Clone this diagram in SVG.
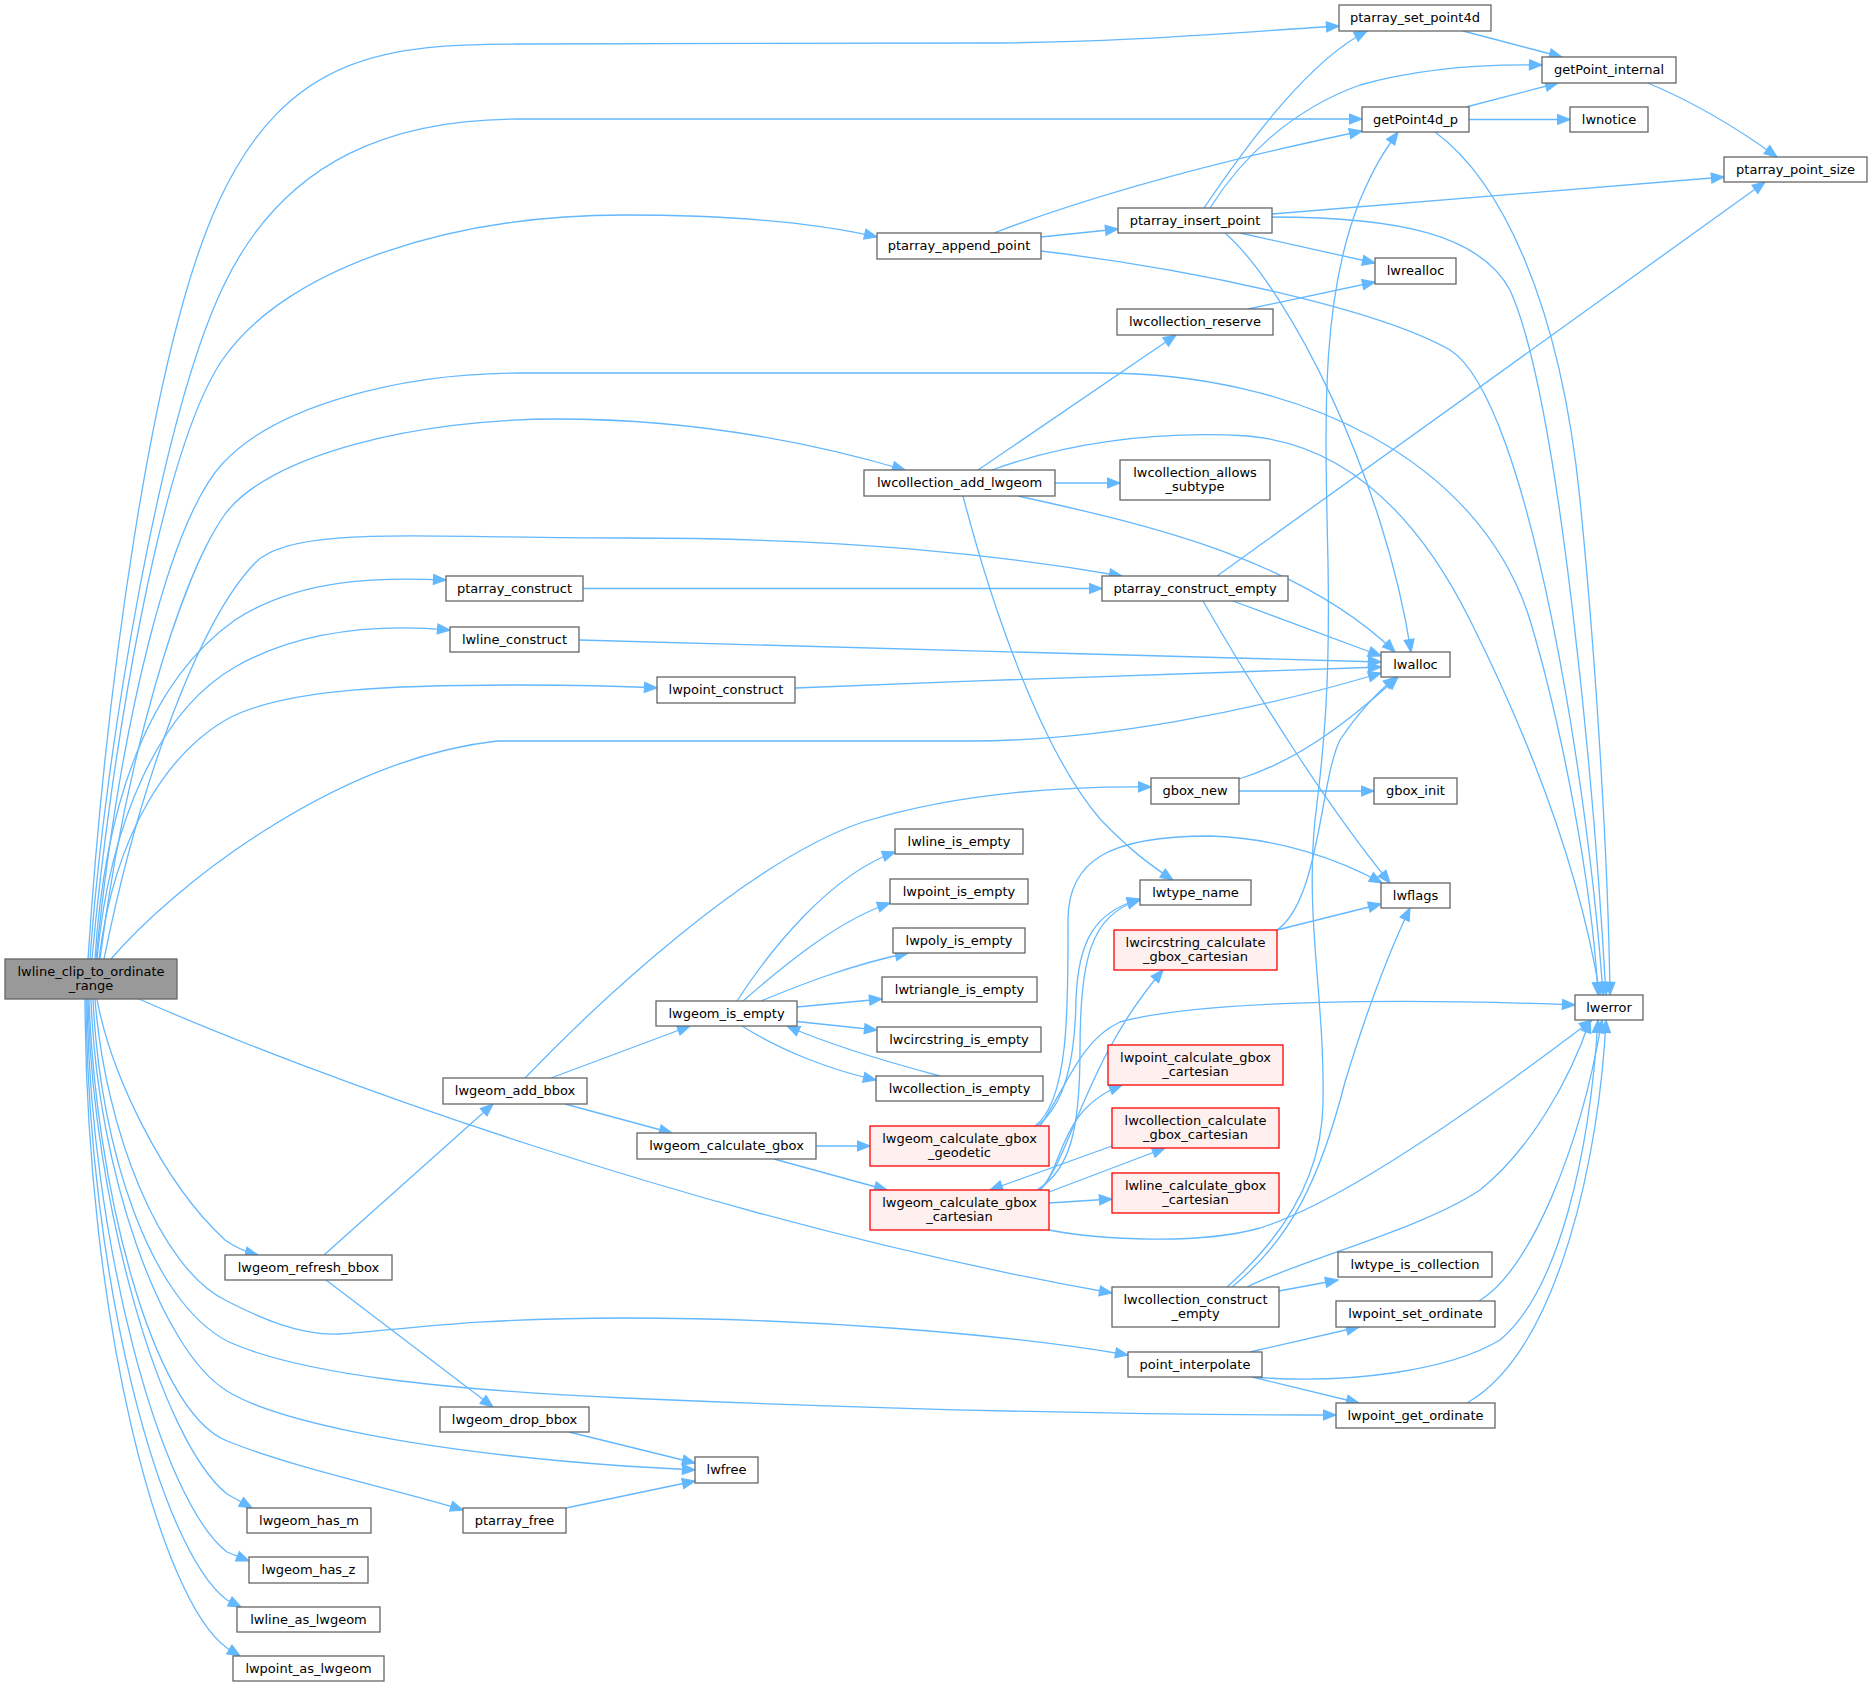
<svg xmlns="http://www.w3.org/2000/svg" width="1872" height="1687" viewBox="0 0 1872 1687">
<style>
.e{fill:none;stroke:#63b8ff;stroke-width:1.3;marker-end:url(#a)}
.n rect{fill:#ffffff;stroke:#666666;stroke-width:1.3}
.r rect{fill:#fff0f0;stroke:#ff0000;stroke-width:1.3}
.root rect{fill:#999999;stroke:#666666;stroke-width:1.3}
text{font-family:"DejaVu Sans",sans-serif;font-size:13px;fill:#000000;text-anchor:middle}
</style>
<defs>
<marker id="a" markerWidth="16" markerHeight="13" refX="13.5" refY="6.5" orient="auto" markerUnits="userSpaceOnUse" viewBox="0 0 16 13"><path d="M1,1.5 L13.5,6.5 L1,11.5 z" fill="#63b8ff" stroke="#63b8ff" stroke-width="1.2" stroke-linejoin="miter"/></marker>
</defs>
<rect width="1872" height="1687" fill="#ffffff"/>
<g id="edges">
<path class="e" d="M88,959 C105,700 150,350 219,201 S390,44 520,44 L980,43 C1120,43 1240,32 1339,26"/>
<path class="e" d="M90,959 C105,750 160,420 223,287 S400,119 520,119 L1362,119"/>
<path class="e" d="M92,959 C110,760 160,450 223,359 S450,215 624,215 C740,215 820,224 877,237"/>
<path class="e" d="M96,959 C120,720 170,520 223,463 S400,373 520,373 L1100,373 C1300,373 1480,460 1530,620 C1560,720 1592,880 1598,995"/>
<path class="e" d="M100,959 C125,760 180,580 223,517 S420,419 557,419 C700,419 820,445 905,470"/>
<path class="e" d="M104,959 C140,780 200,620 255,563 C290,525 420,538 624,538 C850,538 1000,555 1122,576"/>
<path class="e" d="M95,959 C105,800 150,680 235,620 C300,578 380,577 446,580"/>
<path class="e" d="M97,959 C110,820 160,710 235,667 C300,630 380,624 450,630"/>
<path class="e" d="M99,959 C115,830 170,750 231,717 C290,688 400,685 520,685 C580,685 620,686 657,688"/>
<path class="e" d="M111,959 C170,890 330,760 497,741 L970,741 C1100,741 1250,712 1381,673"/>
<path class="e" d="M139,999 C300,1070 700,1220 1112,1293"/>
<path class="e" d="M97,999 C110,1070 160,1180 225,1240 C235,1247 245,1252 258,1255"/>
<path class="e" d="M95,999 C105,1130 160,1270 227,1301 C260,1318 300,1336 340,1334 C400,1330 470,1318 624,1318 C800,1318 1000,1333 1128,1355"/>
<path class="e" d="M93,999 C100,1150 150,1300 227,1341 C300,1375 450,1390 624,1398 C900,1410 1150,1415 1336,1415"/>
<path class="e" d="M91,999 C97,1170 160,1350 227,1391 C270,1418 400,1450 624,1466 L695,1470"/>
<path class="e" d="M89,999 C95,1180 150,1410 227,1441 C300,1470 400,1490 463,1510"/>
<path class="e" d="M88,999 C92,1200 160,1440 227,1494 L252,1508"/>
<path class="e" d="M87,999 C90,1240 160,1500 227,1552 L249,1561"/>
<path class="e" d="M86,999 C88,1280 160,1550 227,1600 L241,1607"/>
<path class="e" d="M85,999 C86,1320 160,1600 227,1648 L240,1656"/>
<path class="e" d="M1463,31 L1562,57"/>
<path class="e" d="M1648,83 C1700,105 1740,130 1777,157"/>
<path class="e" d="M1466,107 L1558,83"/>
<path class="e" d="M1469,119.5 L1570,119.5"/>
<path class="e" d="M1204,208 C1250,140 1310,60 1367,31"/>
<path class="e" d="M1210,208 C1240,160 1290,110 1360,85 C1420,68 1480,64 1542,65"/>
<path class="e" d="M994,233 C1080,200 1200,165 1362,131"/>
<path class="e" d="M1041,237 L1118,229"/>
<path class="e" d="M1041,251 C1200,270 1380,310 1450,350 C1530,400 1590,800 1603,995"/>
<path class="e" d="M1272,214 L1724,177"/>
<path class="e" d="M1240,233 L1375,263"/>
<path class="e" d="M1225,233 C1290,290 1385,480 1411,652"/>
<path class="e" d="M1272,217 C1400,217 1480,235 1510,290 C1560,400 1595,800 1606,995"/>
<path class="e" d="M1435,132 C1500,180 1560,300 1580,500 C1595,650 1608,850 1610,995"/>
<path class="e" d="M992,470 C1060,445 1150,430 1248,436 C1350,445 1420,520 1470,620 C1530,740 1580,870 1600,995"/>
<path class="e" d="M1248,309 L1375,282"/>
<path class="e" d="M978,470 L1176,335"/>
<path class="e" d="M1055,483 L1120,483"/>
<path class="e" d="M1018,496 C1150,525 1300,560 1395,652"/>
<path class="e" d="M963,496 C990,600 1040,750 1101,820 C1130,850 1150,865 1173,880"/>
<path class="e" d="M583,588.5 L1102,588.5"/>
<path class="e" d="M1217,576 L1765,182"/>
<path class="e" d="M1233,601 L1381,656"/>
<path class="e" d="M1203,601 C1260,700 1330,810 1390,883"/>
<path class="e" d="M579,640 C900,648 1200,656 1381,662"/>
<path class="e" d="M795,688 C1000,680 1250,670 1381,667"/>
<path class="e" d="M1239,779 C1300,760 1350,720 1398,677"/>
<path class="e" d="M1239,791 L1374,791"/>
<path class="e" d="M525,1078 C600,1000 750,860 863,822 C950,795 1050,786 1151,787"/>
<path class="e" d="M551,1078 L690,1026"/>
<path class="e" d="M565,1104 L672,1133"/>
<path class="e" d="M737,1001 C770,950 830,875 895,852"/>
<path class="e" d="M743,1001 C790,960 840,920 890,903"/>
<path class="e" d="M761,1001 C800,985 850,965 908,953"/>
<path class="e" d="M797,1007 L882,999"/>
<path class="e" d="M797,1021.5 L877,1030"/>
<path class="e" d="M742,1026 C780,1050 830,1070 876,1080"/>
<path class="e" d="M940,1076 C880,1060 830,1045 787,1026"/>
<path class="e" d="M816,1146 L870,1146"/>
<path class="e" d="M774,1159 L887,1190"/>
<path class="e" d="M1049,1203 L1112,1199"/>
<path class="e" d="M1049,1192 L1165,1148"/>
<path class="e" d="M1112,1146 L990,1190"/>
<path class="e" d="M1040,1190 C1065,1165 1058,1110 1122,1085"/>
<path class="e" d="M1040,1190 C1070,1160 1085,1060 1163,970"/>
<path class="e" d="M1037,1190 C1070,1170 1080,1130 1080,1050 C1080,960 1090,915 1140,900"/>
<path class="e" d="M1037,1126 C1065,1105 1075,1060 1076,1000 C1078,940 1095,912 1140,899"/>
<path class="e" d="M1035,1126 C1070,1100 1068,1000 1068,920 C1068,860 1110,836 1210,836 C1280,838 1340,860 1382,883"/>
<path class="e" d="M1040,1126 C1065,1090 1080,1040 1120,1022 C1200,1000 1400,998 1575,1005"/>
<path class="e" d="M1049,1230 C1100,1240 1200,1245 1260,1228 C1350,1200 1500,1090 1592,1020"/>
<path class="e" d="M1277,930 L1381,904"/>
<path class="e" d="M1277,930 C1320,900 1320,780 1340,740 C1360,710 1380,690 1396,677"/>
<path class="e" d="M1227,1287 C1280,1240 1322,1180 1323,1103 C1325,1000 1305,920 1315,820 C1325,740 1330,680 1328,563 C1325,420 1320,300 1360,200 C1375,165 1385,150 1398,132"/>
<path class="e" d="M1232,1287 C1290,1240 1320,1180 1345,1082 C1370,1000 1390,950 1410,908"/>
<path class="e" d="M1279,1291 L1338,1280"/>
<path class="e" d="M1247,1287 C1300,1260 1420,1230 1480,1190 C1530,1150 1570,1080 1590,1020"/>
<path class="e" d="M1250,1352 L1359,1327"/>
<path class="e" d="M1252,1377 C1350,1385 1450,1370 1500,1340 C1560,1290 1590,1150 1598,1020"/>
<path class="e" d="M1252,1377 L1359,1403"/>
<path class="e" d="M1479,1301 C1530,1270 1580,1150 1602,1020"/>
<path class="e" d="M1467,1403 C1560,1350 1600,1150 1606,1020"/>
<path class="e" d="M324,1255 L493,1104"/>
<path class="e" d="M326,1280 L493,1407"/>
<path class="e" d="M569,1432 L695,1463"/>
<path class="e" d="M566,1508 L695,1481"/>
</g>
<g id="lwline_clip_to_ordinate_range" class="root"><rect x="5" y="959" width="172" height="40"/><text x="91" y="976">lwline_clip_to_ordinate</text><text x="91" y="990">_range</text></g>
<g id="ptarray_set_point4d" class="n"><rect x="1339" y="5" width="152" height="26"/><text x="1415" y="22">ptarray_set_point4d</text></g>
<g id="getPoint_internal" class="n"><rect x="1542" y="57" width="134" height="26"/><text x="1609" y="74">getPoint_internal</text></g>
<g id="getPoint4d_p" class="n"><rect x="1362" y="107" width="107" height="25"/><text x="1415.5" y="123.5">getPoint4d_p</text></g>
<g id="lwnotice" class="n"><rect x="1570" y="107" width="78" height="25"/><text x="1609" y="123.5">lwnotice</text></g>
<g id="ptarray_point_size" class="n"><rect x="1724" y="157" width="143" height="25"/><text x="1795.5" y="173.5">ptarray_point_size</text></g>
<g id="ptarray_insert_point" class="n"><rect x="1118" y="208" width="154" height="25"/><text x="1195" y="224.5">ptarray_insert_point</text></g>
<g id="ptarray_append_point" class="n"><rect x="877" y="233" width="164" height="26"/><text x="959" y="250">ptarray_append_point</text></g>
<g id="lwrealloc" class="n"><rect x="1375" y="258" width="81" height="26"/><text x="1415.5" y="275">lwrealloc</text></g>
<g id="lwcollection_reserve" class="n"><rect x="1117" y="309" width="156" height="26"/><text x="1195" y="326">lwcollection_reserve</text></g>
<g id="lwcollection_add_lwgeom" class="n"><rect x="864" y="470" width="191" height="26"/><text x="959.5" y="487">lwcollection_add_lwgeom</text></g>
<g id="lwcollection_allows_subtype" class="n"><rect x="1120" y="460" width="150" height="40"/><text x="1195" y="477">lwcollection_allows</text><text x="1195" y="491">_subtype</text></g>
<g id="ptarray_construct" class="n"><rect x="446" y="576" width="137" height="25"/><text x="514.5" y="592.5">ptarray_construct</text></g>
<g id="ptarray_construct_empty" class="n"><rect x="1102" y="576" width="186" height="25"/><text x="1195" y="592.5">ptarray_construct_empty</text></g>
<g id="lwline_construct" class="n"><rect x="450" y="627" width="129" height="25"/><text x="514.5" y="643.5">lwline_construct</text></g>
<g id="lwalloc" class="n"><rect x="1381" y="652" width="69" height="25"/><text x="1415.5" y="668.5">lwalloc</text></g>
<g id="lwpoint_construct" class="n"><rect x="657" y="677" width="138" height="26"/><text x="726" y="694">lwpoint_construct</text></g>
<g id="gbox_new" class="n"><rect x="1151" y="778" width="88" height="26"/><text x="1195" y="795">gbox_new</text></g>
<g id="gbox_init" class="n"><rect x="1374" y="778" width="83" height="26"/><text x="1415.5" y="795">gbox_init</text></g>
<g id="lwline_is_empty" class="n"><rect x="895" y="829" width="128" height="25"/><text x="959" y="845.5">lwline_is_empty</text></g>
<g id="lwpoint_is_empty" class="n"><rect x="890" y="879" width="138" height="25"/><text x="959" y="895.5">lwpoint_is_empty</text></g>
<g id="lwtype_name" class="n"><rect x="1140" y="880" width="111" height="25"/><text x="1195.5" y="896.5">lwtype_name</text></g>
<g id="lwflags" class="n"><rect x="1381" y="883" width="69" height="25"/><text x="1415.5" y="899.5">lwflags</text></g>
<g id="lwpoly_is_empty" class="n"><rect x="893" y="928" width="132" height="25"/><text x="959" y="944.5">lwpoly_is_empty</text></g>
<g id="lwcircstring_calculate_gbox_cartesian" class="r"><rect x="1114" y="930" width="163" height="40"/><text x="1195.5" y="947">lwcircstring_calculate</text><text x="1195.5" y="961">_gbox_cartesian</text></g>
<g id="lwtriangle_is_empty" class="n"><rect x="882" y="977" width="155" height="25"/><text x="959.5" y="993.5">lwtriangle_is_empty</text></g>
<g id="lwgeom_is_empty" class="n"><rect x="656" y="1001" width="141" height="25"/><text x="726.5" y="1017.5">lwgeom_is_empty</text></g>
<g id="lwerror" class="n"><rect x="1575" y="995" width="68" height="25"/><text x="1609" y="1011.5">lwerror</text></g>
<g id="lwcircstring_is_empty" class="n"><rect x="877" y="1027" width="164" height="25"/><text x="959" y="1043.5">lwcircstring_is_empty</text></g>
<g id="lwpoint_calculate_gbox_cartesian" class="r"><rect x="1108" y="1045" width="175" height="40"/><text x="1195.5" y="1062">lwpoint_calculate_gbox</text><text x="1195.5" y="1076">_cartesian</text></g>
<g id="lwcollection_is_empty" class="n"><rect x="876" y="1076" width="167" height="25"/><text x="959.5" y="1092.5">lwcollection_is_empty</text></g>
<g id="lwgeom_add_bbox" class="n"><rect x="443" y="1078" width="144" height="26"/><text x="515" y="1095">lwgeom_add_bbox</text></g>
<g id="lwcollection_calculate_gbox_cartesian" class="r"><rect x="1112" y="1108" width="167" height="40"/><text x="1195.5" y="1125">lwcollection_calculate</text><text x="1195.5" y="1139">_gbox_cartesian</text></g>
<g id="lwgeom_calculate_gbox" class="n"><rect x="637" y="1133" width="179" height="26"/><text x="726.5" y="1150">lwgeom_calculate_gbox</text></g>
<g id="lwgeom_calculate_gbox_geodetic" class="r"><rect x="870" y="1126" width="179" height="40"/><text x="959.5" y="1143">lwgeom_calculate_gbox</text><text x="959.5" y="1157">_geodetic</text></g>
<g id="lwline_calculate_gbox_cartesian" class="r"><rect x="1112" y="1173" width="167" height="40"/><text x="1195.5" y="1190">lwline_calculate_gbox</text><text x="1195.5" y="1204">_cartesian</text></g>
<g id="lwgeom_calculate_gbox_cartesian" class="r"><rect x="870" y="1190" width="179" height="40"/><text x="959.5" y="1207">lwgeom_calculate_gbox</text><text x="959.5" y="1221">_cartesian</text></g>
<g id="lwtype_is_collection" class="n"><rect x="1338" y="1252" width="154" height="25"/><text x="1415" y="1268.5">lwtype_is_collection</text></g>
<g id="lwgeom_refresh_bbox" class="n"><rect x="225" y="1255" width="167" height="25"/><text x="308.5" y="1271.5">lwgeom_refresh_bbox</text></g>
<g id="lwcollection_construct_empty" class="n"><rect x="1112" y="1287" width="167" height="40"/><text x="1195.5" y="1304">lwcollection_construct</text><text x="1195.5" y="1318">_empty</text></g>
<g id="lwpoint_set_ordinate" class="n"><rect x="1336" y="1301" width="159" height="26"/><text x="1415.5" y="1318">lwpoint_set_ordinate</text></g>
<g id="point_interpolate" class="n"><rect x="1128" y="1352" width="134" height="25"/><text x="1195" y="1368.5">point_interpolate</text></g>
<g id="lwpoint_get_ordinate" class="n"><rect x="1336" y="1403" width="159" height="25"/><text x="1415.5" y="1419.5">lwpoint_get_ordinate</text></g>
<g id="lwgeom_drop_bbox" class="n"><rect x="440" y="1407" width="149" height="25"/><text x="514.5" y="1423.5">lwgeom_drop_bbox</text></g>
<g id="lwfree" class="n"><rect x="695" y="1457" width="63" height="26"/><text x="726.5" y="1474">lwfree</text></g>
<g id="lwgeom_has_m" class="n"><rect x="247" y="1508" width="124" height="25"/><text x="309" y="1524.5">lwgeom_has_m</text></g>
<g id="ptarray_free" class="n"><rect x="463" y="1508" width="103" height="25"/><text x="514.5" y="1524.5">ptarray_free</text></g>
<g id="lwgeom_has_z" class="n"><rect x="249" y="1557" width="119" height="26"/><text x="308.5" y="1574">lwgeom_has_z</text></g>
<g id="lwline_as_lwgeom" class="n"><rect x="237" y="1607" width="143" height="25"/><text x="308.5" y="1623.5">lwline_as_lwgeom</text></g>
<g id="lwpoint_as_lwgeom" class="n"><rect x="233" y="1656" width="151" height="25"/><text x="308.5" y="1672.5">lwpoint_as_lwgeom</text></g>
</svg>
